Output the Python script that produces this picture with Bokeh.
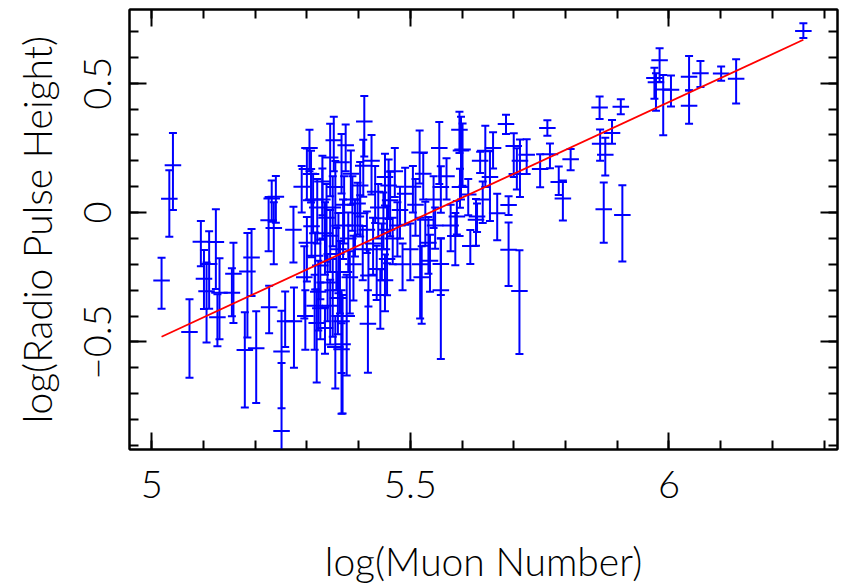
import numpy as np
from bokeh.plotting import figure
from bokeh.models import (Range1d, LinearAxis, SingleIntervalTicker,
                          CustomJSTickFormatter, ColumnDataSource)
from bokeh.embed import file_html
from bokeh.resources import INLINE

# ---- data: log(muon number), log(radio pulse height), asymmetric y errors, x errors ----
x_vals = [5.019, 5.041, 5.034, 5.073, 5.095, 5.101, 5.106, 5.111, 5.124, 5.131,
          5.127, 5.158, 5.155, 5.185, 5.193, 5.180, 5.202, 5.227, 5.226, 5.236,
          5.240, 5.232, 5.251, 5.251, 5.258, 5.274, 5.275,
          5.300, 5.308, 5.345, 5.355, 5.367, 5.409, 5.403, 5.398, 5.403, 5.416,
          5.309, 5.300, 5.316, 5.326, 5.322, 5.326, 5.335, 5.361, 5.364, 5.377,
          5.367, 5.369, 5.367, 5.408, 5.419, 5.411, 5.418, 5.319,
          5.451, 5.458, 5.461, 5.448, 5.455, 5.445, 5.455, 5.435, 5.451, 5.442,
          5.480, 5.490, 5.500, 5.519, 5.529, 5.535, 5.538, 5.518, 5.556, 5.559,
          5.559, 5.559, 5.590, 5.596, 5.595, 5.601, 5.616, 5.629, 5.587,
          5.685, 5.645, 5.765, 5.770, 5.751, 5.810, 5.787, 5.795, 5.874, 5.711,
          5.690, 5.690, 5.668, 5.712, 5.725, 5.635, 5.700, 5.706, 5.654, 5.627,
          5.598,
          5.866, 5.907, 5.890, 5.867, 5.877, 5.910, 5.982, 5.975, 5.972, 5.989,
          6.004, 6.039, 6.039, 6.061, 6.101, 6.130, 6.260,
          5.330, 5.338, 5.345, 5.350, 5.372, 5.380, 5.385, 5.390, 5.312, 5.295,
          5.290, 5.345, 5.352, 5.425, 5.432, 5.470, 5.475, 5.510, 5.545, 5.570,
          5.578,
          5.330, 5.335, 5.340, 5.355, 5.350, 5.357, 5.360, 5.370, 5.375, 5.383,
          5.388, 5.393, 5.305, 5.315, 5.297, 5.320, 5.428, 5.438, 5.466, 5.485,
          5.505, 5.525, 5.548, 5.612, 5.640, 5.660, 5.522]
y_vals = [-0.263, 0.183, 0.053, -0.462, -0.113, -0.256, -0.304, -0.199, -0.114, -0.310,
          -0.405, -0.237, -0.310, -0.228, -0.174, -0.531, -0.525, -0.366, -0.030, -0.060,
          0.061, 0.054, -0.537, -0.844, -0.420, -0.066, -0.420,
          0.168, 0.149, 0.213, 0.099, 0.194, 0.181, 0.105, 0.035, -0.003, -0.066,
          -0.053, -0.117, -0.167, -0.205, -0.306, -0.370, -0.446, -0.142, -0.230, -0.400,
          -0.420, -0.509, -0.528, -0.142, -0.243, 0.352, -0.430, -0.427,
          0.137, 0.105, 0.048, -0.022, -0.066, -0.142, -0.180, -0.218, -0.262, -0.319,
          0.010, 0.073, -0.142, -0.200, -0.028, -0.117, -0.186, 0.232, 0.250, 0.099,
          -0.300, -0.199, -0.015, 0.099, 0.320, 0.244, -0.129, -0.015, -0.091,
          0.342, 0.239, 0.327, 0.225, 0.168, 0.206, 0.118, 0.054, 0.013, -0.303,
          -0.144, 0.029, -0.003, 0.200, 0.223, 0.200, 0.257, 0.149, 0.137, -0.028,
          0.240,
          0.406, 0.409, 0.308, 0.266, 0.223, -0.009, 0.589, 0.504, 0.520, 0.476,
          0.475, 0.525, 0.413, 0.539, 0.538, 0.517, 0.702,
          0.050, -0.020, -0.090, -0.300, 0.030, -0.100, 0.150, -0.200, 0.050, -0.250,
          0.100, -0.360, 0.280, 0.200, 0.080, 0.160, -0.050, 0.030, 0.050, 0.140,
          -0.050,
          0.120, -0.080, -0.270, -0.520, 0.020, -0.160, -0.330, -0.050, 0.260, -0.250,
          0.050, -0.050, 0.250, -0.360, -0.400, 0.020, -0.120, 0.020, -0.100, -0.200,
          0.100, 0.150, -0.050, 0.070, 0.050, 0.250, -0.250]
y_err_up = [0.088, 0.125, 0.111, 0.127, 0.080, 0.111, 0.111, 0.127, 0.127, 0.133,
            0.089, 0.120, 0.095, 0.149, 0.110, 0.146, 0.143, 0.083, 0.090, 0.100,
            0.080, 0.070, 0.157, 0.262, 0.115, 0.088, 0.130,
            0.080, 0.090, 0.130, 0.100, 0.110, 0.100, 0.090, 0.080, 0.070, 0.070,
            0.100, 0.100, 0.090, 0.100, 0.120, 0.100, 0.080, 0.140, 0.120, 0.160,
            0.120, 0.190, 0.100, 0.090, 0.100, 0.099, 0.130, 0.130,
            0.090, 0.100, 0.110, 0.100, 0.090, 0.100, 0.100, 0.090, 0.100, 0.100,
            0.090, 0.100, 0.100, 0.180, 0.070, 0.100, 0.100, 0.085, 0.100, 0.080,
            0.200, 0.100, 0.060, 0.070, 0.070, 0.100, 0.062, 0.050, 0.089,
            0.036, 0.097, 0.030, 0.042, 0.057, 0.040, 0.060, 0.070, 0.103, 0.157,
            0.106, 0.034, 0.076, 0.082, 0.060, 0.035, 0.050, 0.100, 0.100, 0.080,
            0.130,
            0.043, 0.029, 0.050, 0.055, 0.066, 0.115, 0.046, 0.035, 0.040, 0.056,
            0.055, 0.080, 0.060, 0.047, 0.027, 0.076, 0.030,
            0.120, 0.130, 0.100, 0.120, 0.110, 0.100, 0.090, 0.110, 0.100, 0.120,
            0.080, 0.100, 0.090, 0.100, 0.100, 0.090, 0.090, 0.100, 0.090, 0.070,
            0.080,
            0.100, 0.120, 0.110, 0.120, 0.120, 0.100, 0.100, 0.100, 0.080, 0.100,
            0.090, 0.100, 0.070, 0.120, 0.100, 0.110, 0.100, 0.090, 0.080, 0.080,
            0.080, 0.080, 0.070, 0.060, 0.070, 0.060, 0.120]
y_err_dn = [0.109, 0.173, 0.147, 0.177, 0.095, 0.117, 0.198, 0.173, 0.182, 0.180,
            0.112, 0.190, 0.091, 0.255, 0.149, 0.223, 0.211, 0.101, 0.120, 0.140,
            0.100, 0.090, 0.220, 0.200, 0.100, 0.127, 0.180,
            0.120, 0.110, 0.150, 0.150, 0.120, 0.120, 0.120, 0.120, 0.090, 0.090,
            0.120, 0.150, 0.130, 0.130, 0.150, 0.120, 0.100, 0.170, 0.160, 0.230,
            0.200, 0.268, 0.250, 0.120, 0.120, 0.135, 0.189, 0.230,
            0.110, 0.130, 0.140, 0.120, 0.130, 0.120, 0.140, 0.120, 0.120, 0.130,
            0.110, 0.120, 0.120, 0.210, 0.100, 0.120, 0.120, 0.120, 0.140, 0.100,
            0.266, 0.120, 0.070, 0.080, 0.090, 0.140, 0.070, 0.060, 0.113,
            0.038, 0.140, 0.030, 0.054, 0.070, 0.042, 0.050, 0.085, 0.130, 0.244,
            0.140, 0.038, 0.104, 0.140, 0.074, 0.047, 0.120, 0.060, 0.170, 0.100,
            0.190,
            0.044, 0.029, 0.042, 0.066, 0.080, 0.180, 0.084, 0.110, 0.080, 0.177,
            0.065, 0.053, 0.070, 0.054, 0.028, 0.095, 0.027,
            0.150, 0.170, 0.140, 0.180, 0.150, 0.130, 0.120, 0.140, 0.130, 0.160,
            0.100, 0.150, 0.120, 0.130, 0.120, 0.100, 0.120, 0.120, 0.110, 0.090,
            0.100,
            0.130, 0.160, 0.150, 0.160, 0.150, 0.140, 0.140, 0.130, 0.100, 0.140,
            0.120, 0.120, 0.090, 0.170, 0.130, 0.140, 0.120, 0.120, 0.100, 0.100,
            0.100, 0.100, 0.090, 0.080, 0.090, 0.080, 0.180]
x_err = [0.016] * len(x_vals)

# linear fit  log(P) = fit_a + fit_b * log(N)
fit_a = -5.1225
fit_b = 0.925

x_range = (4.957, 6.326)
y_range = (-0.916, 0.785)

# ---- build ----
x = np.array(x_vals)
y = np.array(y_vals)
up = np.array(y_err_up)
dn = np.array(y_err_dn)
xe = np.array(x_err)

src = ColumnDataSource(dict(x=x, y=y, lo=y - dn, hi=y + up, left=x - xe, right=x + xe))

FONT = "Lato Light"
BLUE = "#0000ff"
RED = "#ff0000"

p = figure(width=842, height=586, output_backend="svg", toolbar_location=None,
           x_range=Range1d(*x_range), y_range=Range1d(*y_range),
           x_axis_type=None, y_axis_type=None,
           min_border_left=129, min_border_right=5, min_border_top=9, min_border_bottom=128)
p.background_fill_color = "white"
p.border_fill_color = "white"
p.outline_line_color = "black"
p.outline_line_width = 2
p.xgrid.visible = False
p.ygrid.visible = False

fmt = CustomJSTickFormatter(code="""
    const v = Math.round(tick * 10) / 10;
    return (v < 0 ? '\\u2212' : '') + String(Math.abs(v));
""")


def make_axis(labels, vertical=False):
    ax = LinearAxis(ticker=SingleIntervalTicker(interval=0.5, num_minor_ticks=5),
                    formatter=fmt)
    ax.axis_line_color = "black"
    ax.axis_line_width = 2
    ax.major_tick_in = 17
    ax.major_tick_out = 0
    ax.minor_tick_in = 9
    ax.minor_tick_out = 0
    ax.major_tick_line_color = "black"
    ax.minor_tick_line_color = "black"
    ax.major_tick_line_width = 2
    ax.minor_tick_line_width = 2
    if labels:
        ax.major_label_text_font = FONT
        ax.major_label_text_font_size = "38px"
        ax.major_label_text_color = "black"
        ax.axis_label_text_font = FONT
        ax.axis_label_text_font_size = "39px"
        ax.axis_label_text_font_style = "normal"
        ax.axis_label_text_color = "black"
        if vertical:
            ax.major_label_orientation = "vertical"
    else:
        # frame-only axis: ticks but no labels drawn
        ax.major_label_text_color = None
        ax.major_label_text_font_size = "1px"
        ax.major_label_standoff = 0
        ax.axis_label = None
    return ax


xb = make_axis(True)
xb.axis_label = "log(Muon Number)"
xb.major_label_standoff = 21
xb.axis_label_standoff = 37
p.add_layout(xb, "below")

yl = make_axis(True, vertical=True)
yl.axis_label = "log(Radio Pulse Height)"
yl.major_label_standoff = 18
yl.axis_label_standoff = 22
p.add_layout(yl, "left")

p.add_layout(make_axis(False), "above")
p.add_layout(make_axis(False), "right")

# error bars
p.segment(x0="x", y0="lo", x1="x", y1="hi", source=src, line_color=BLUE, line_width=2)
p.segment(x0="left", y0="y", x1="right", y1="y", source=src, line_color=BLUE, line_width=2)
p.scatter(x="x", y="hi", source=src, marker="dash", size=8, line_color=BLUE, line_width=2)
p.scatter(x="x", y="lo", source=src, marker="dash", size=8, line_color=BLUE, line_width=2)

# fit line over the data range
fx = np.array([x.min(), x.max()])
p.line(fx, fit_a + fit_b * fx, line_color=RED, line_width=1.8)

open("out.html", "w").write(file_html(p, INLINE))
